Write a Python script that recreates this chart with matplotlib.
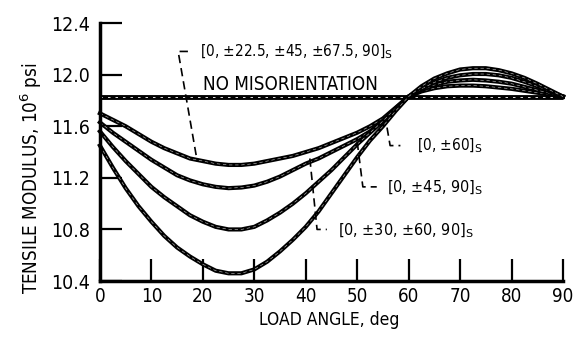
import numpy as np
import matplotlib
matplotlib.use('Agg')
import matplotlib.pyplot as plt

# Load angle, deg
angle = [0, 2.5, 5, 7.5, 10, 12.5, 15, 17.5, 20, 22.5, 25, 27.5, 30, 32.5, 35, 37.5,
         40, 42.5, 45, 47.5, 50, 52.5, 55, 57.5, 60, 62.5, 65, 67.5, 70, 72.5, 75,
         77.5, 80, 82.5, 85, 87.5, 90]

# Tensile modulus, 10^6 psi
e_22 = [11.70, 11.65, 11.60, 11.54, 11.48, 11.43, 11.39, 11.35, 11.33, 11.31, 11.30,
        11.30, 11.31, 11.33, 11.35, 11.37, 11.40, 11.43, 11.47, 11.51, 11.55, 11.60,
        11.66, 11.745, 11.83, 11.87, 11.895, 11.91, 11.915, 11.915, 11.91, 11.90,
        11.89, 11.875, 11.86, 11.845, 11.83]
e_30 = [11.63, 11.55, 11.48, 11.41, 11.34, 11.28, 11.22, 11.18, 11.15, 11.13, 11.12,
        11.125, 11.14, 11.17, 11.21, 11.26, 11.31, 11.35, 11.40, 11.45, 11.50, 11.56,
        11.64, 11.73, 11.83, 11.88, 11.92, 11.945, 11.955, 11.96, 11.955, 11.945,
        11.93, 11.905, 11.88, 11.855, 11.83]
e_45 = [11.56, 11.44, 11.33, 11.23, 11.13, 11.05, 10.98, 10.91, 10.86, 10.82, 10.80,
        10.80, 10.82, 10.87, 10.93, 11.00, 11.08, 11.17, 11.26, 11.36, 11.46, 11.55,
        11.64, 11.74, 11.83, 11.89, 11.94, 11.975, 11.995, 12.005, 12.005, 11.995,
        11.975, 11.945, 11.91, 11.87, 11.83]
e_60 = [11.45, 11.28, 11.12, 10.98, 10.86, 10.75, 10.66, 10.59, 10.53, 10.48, 10.46,
        10.46, 10.49, 10.55, 10.63, 10.72, 10.82, 10.94, 11.08, 11.22, 11.36, 11.49,
        11.60, 11.72, 11.83, 11.91, 11.97, 12.01, 12.04, 12.05, 12.05, 12.035,
        12.01, 11.975, 11.93, 11.88, 11.83]
e_none = 11.83

xticks = [0, 10, 20, 30, 40, 50, 60, 70, 80, 90]
yticks = [10.4, 10.8, 11.2, 11.6, 12.0, 12.4]

# condensed face looks closest to the typewriter-ish lettering of the scan
fnt = dict(family='DejaVu Sans', stretch='condensed')

fig = plt.figure(figsize=(5.81, 3.39), dpi=100)
ax = fig.add_axes([0.172, 0.171, 0.797, 0.761])

# reference line
ax.plot([0, 90], [e_none, e_none], color='black', lw=3.5, solid_capstyle='butt', clip_on=False)
ax.plot([0, 90], [e_none, e_none], color='white', lw=0.6, ls=(0, (3, 6)), clip_on=False)

for e in (e_22, e_30, e_45, e_60):
    ax.plot(angle, e, color='black', lw=3.0, clip_on=False)
    ax.plot(angle, e, color='white', lw=0.4, ls=(0, (6, 5)), alpha=0.8, clip_on=False)

ax.set_xlim(0, 90)
ax.set_ylim(10.4, 12.4)
for s in ('top', 'right'):
    ax.spines[s].set_visible(False)
for s in ('left', 'bottom'):
    ax.spines[s].set_linewidth(2.5)

ax.set_xticks(xticks)
ax.set_xticklabels([str(t) for t in xticks], **fnt, fontsize=13.5)
ax.set_yticks(yticks)
ax.set_yticklabels(['10.4', '10.8', '11.2', '11.6', '12.0', '12.4'], **fnt, fontsize=14)
ax.tick_params(axis='both', direction='in', length=16, width=1.6)
ax.tick_params(axis='x', pad=4)
ax.tick_params(axis='y', pad=7)

ax.set_xlabel('LOAD ANGLE, deg', **fnt, fontsize=12.5)
ax.xaxis.set_label_coords(0.495, -0.115)
ax.set_ylabel('TENSILE MODULUS, 10$^6$ psi', **fnt, fontsize=13.5)
ax.yaxis.set_label_coords(-0.12, 0.40)

# labels and leaders
lkw = dict(color='black', lw=1.2, ls=(0, (5, 3)), clip_on=False)
ax.text(20.0, 11.92, 'NO MISORIENTATION', **fnt, fontsize=13.5, va='center', ha='left')

ax.plot([17.1, 15.2, 18.9], [12.18, 12.18, 11.33], **lkw)
ax.text(19.4, 12.18, '[0, \u00b122.5, \u00b145, \u00b167.5, 90]$_\\mathrm{S}$', **fnt,
        fontsize=11, va='center', ha='left')

ax.plot([55.8, 56.4, 58.4], [11.59, 11.45, 11.45], **lkw)
ax.text(61.6, 11.45, '[0, \u00b160]$_\\mathrm{S}$', **fnt, fontsize=11, va='center', ha='left')

ax.plot([50.0, 51.1, 53.8], [11.48, 11.13, 11.13], **lkw)
ax.text(55.8, 11.12, '[0, \u00b145, 90]$_\\mathrm{S}$', **fnt, fontsize=11.5, va='center', ha='left')

ax.plot([40.8, 42.2, 44.1], [11.35, 10.80, 10.80], **lkw)
ax.text(46.3, 10.79, '[0, \u00b130, \u00b160, 90]$_\\mathrm{S}$', **fnt, fontsize=11.5,
        va='center', ha='left')

fig.savefig('out.png', dpi=100)
